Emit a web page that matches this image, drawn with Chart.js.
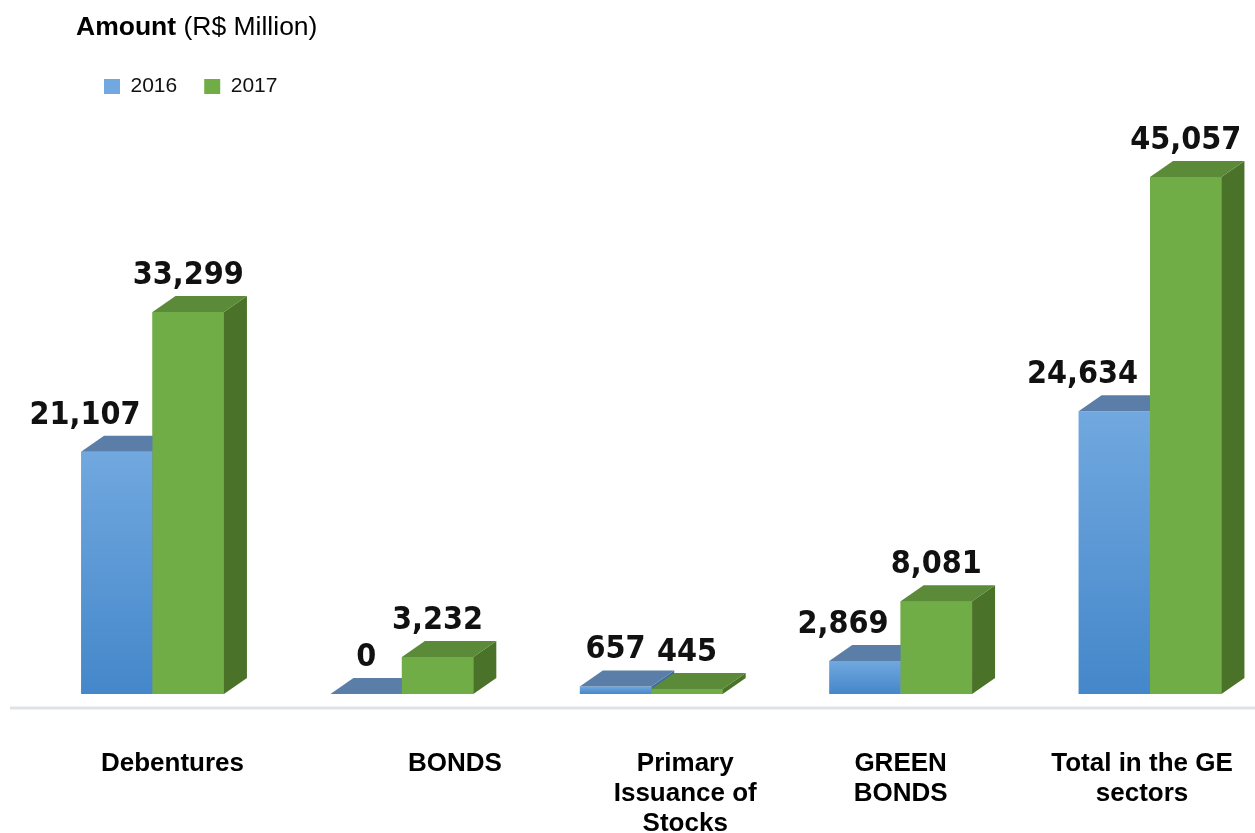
<!DOCTYPE html>
<html><head><meta charset="utf-8">
<script src="https://cdn.jsdelivr.net/npm/chart.js@4.4.1/dist/chart.umd.min.js"></script>
<style>html,body{margin:0;padding:0;background:#fff;}canvas{display:block;}</style>
</head><body>
<canvas id="c" width="1255" height="833"></canvas>
<script>
// ---- data ----
const categories = ['Debentures', 'BONDS', ['Primary', 'Issuance of', 'Stocks'], ['GREEN', 'BONDS'], ['Total in the GE', 'sectors']];
const seriesNames = ['2016', '2017'];
const values2016 = [21107, 0, 657, 2869, 24634];
const values2017 = [33299, 3232, 445, 8081, 45057];
const yMin = 0;
const yMax = 51160;

// ---- style ----
const DX = 23, DY = 16;
const FONT = '"Liberation Sans", Arial, sans-serif';
const LABEL_FONT = 'bold 32px "DejaVu Sans Condensed", "DejaVu Sans", sans-serif';
const tickLabelNudge = [20, 53, 34, 0, -8];

function blueFill(ctx) {
  if (ctx.type !== 'data') return '#5B9BD5';
  const chart = ctx.chart;
  if (!chart.chartArea) return '#5B9BD5';
  const ys = chart.scales.y;
  const top = ys.getPixelForValue(ctx.raw);
  const bot = ys.getPixelForValue(0);
  if (!isFinite(top) || bot - top < 1) return '#5B9BD5';
  const g = chart.ctx.createLinearGradient(0, top, 0, bot);
  g.addColorStop(0, '#71A8DF');
  g.addColorStop(1, '#4487CA');
  return g;
}

function drawFaces(ctx, el, ds) {
  const p = el.getProps(['x', 'y', 'base', 'width'], true);
  const x0 = p.x - p.width / 2, x1 = p.x + p.width / 2;
  ctx.fillStyle = ds.sideColor;
  ctx.beginPath();
  ctx.moveTo(x1, p.y); ctx.lineTo(x1 + DX, p.y - DY);
  ctx.lineTo(x1 + DX, p.base - DY); ctx.lineTo(x1, p.base);
  ctx.closePath(); ctx.fill();
  ctx.fillStyle = ds.topColor;
  ctx.beginPath();
  ctx.moveTo(x0, p.y); ctx.lineTo(x1, p.y);
  ctx.lineTo(x1 + DX, p.y - DY); ctx.lineTo(x0 + DX, p.y - DY);
  ctx.closePath(); ctx.fill();
}

const bars3d = {
  id: 'bars3d',
  beforeDraw(chart) {
    // shift individual category labels sideways (library-drawn tick labels)
    const items = chart.scales.x.getLabelItems();
    if (!items._nudged) {
      items.forEach((it, i) => { it.options.translation[0] += (tickLabelNudge[i] || 0); });
      items._nudged = true;
    }
  },
  beforeDatasetsDraw(chart) {
    const ctx = chart.ctx;
    const y0 = chart.scales.y.getPixelForValue(0) + 14;
    ctx.save();
    ctx.strokeStyle = '#DFE3E8';
    ctx.lineWidth = 3;
    ctx.beginPath();
    ctx.moveTo(10, y0);
    ctx.lineTo(chart.width, y0);
    ctx.stroke();
    ctx.restore();
  },
  afterDatasetsDraw(chart) {
    const ctx = chart.ctx;
    const m0 = chart.getDatasetMeta(0), m1 = chart.getDatasetMeta(1);
    const d0 = chart.data.datasets[0], d1 = chart.data.datasets[1];
    ctx.save();
    // back-most first: 2016 faces, then 2017 front (redrawn by the library element) and faces
    m0.data.forEach(el => drawFaces(ctx, el, d0));
    m1.data.forEach(el => { el.draw(ctx); drawFaces(ctx, el, d1); });
    ctx.restore();

    ctx.save();
    ctx.font = LABEL_FONT;
    ctx.fillStyle = '#111111';
    ctx.textBaseline = 'alphabetic';
    ctx.textAlign = 'left';
    [m0, m1].forEach((meta, di) => {
      meta.data.forEach((el, j) => {
        const v = chart.data.datasets[di].data[j];
        const txt = v.toLocaleString('en-US');
        const w = ctx.measureText(txt).width;
        const baseY = el.y - DY - 12;
        let left = el.x - w / 2;
        if (di === 0) {
          const other = m1.data[j];
          if (other.y - DY < baseY) {
            const limit = other.x - other.width / 2 - 12;
            if (left + w > limit) left = limit - w;
          }
        }
        ctx.fillText(txt, left, baseY);
      });
    });
    ctx.restore();
  },
  afterDraw(chart) {
    const ctx = chart.ctx;
    ctx.save();
    ctx.fillStyle = '#000';
    ctx.textBaseline = 'alphabetic';
    ctx.font = 'bold 26.5px ' + FONT;
    const t1 = 'Amount';
    ctx.fillText(t1, 76, 35);
    const w1 = ctx.measureText(t1).width;
    ctx.font = '26.5px ' + FONT;
    ctx.fillText(' (R$ Million)', 76 + w1, 35);
    ctx.restore();
  }
};

new Chart(document.getElementById('c'), {
  type: 'bar',
  data: {
    labels: categories,
    datasets: [
      { label: seriesNames[0], data: values2016, backgroundColor: blueFill, topColor: '#5A7EA8', sideColor: '#3F6E9E' },
      { label: seriesNames[1], data: values2017, backgroundColor: '#70AD47', topColor: '#5B8A38', sideColor: '#4A7229' }
    ]
  },
  options: {
    responsive: false,
    animation: false,
    devicePixelRatio: 1,
    layout: { padding: { top: 49, left: 77, right: 105, bottom: 0 } },
    datasets: { bar: { categoryPercentage: 0.573, barPercentage: 1.0, borderWidth: 0, clip: false } },
    plugins: {
      legend: {
        display: true,
        position: 'top',
        align: 'start',
        labels: {
          boxWidth: 16, boxHeight: 15, padding: 27,
          color: '#111', font: { family: FONT, size: 21 }
        }
      },
      tooltip: { enabled: false },
      title: { display: false }
    },
    scales: {
      x: {
        type: 'category',
        offset: false,
        grid: { display: false },
        border: { display: false },
        ticks: {
          color: '#000', font: { family: FONT, size: 26, weight: 'bold', lineHeight: 1.15 },
          padding: 47, labelOffset: 0,
          autoSkip: false, maxRotation: 0, minRotation: 0
        },
        afterFit(scale) { scale.height = 139; scale.paddingLeft = 0; scale.paddingRight = 0; }
      },
      y: {
        min: yMin, max: yMax,
        grid: { display: false },
        border: { display: false },
        ticks: { display: false },
        afterFit(scale) { scale.width = 75.5; }
      }
    }
  },
  plugins: [bars3d]
});
</script>
</body></html>
